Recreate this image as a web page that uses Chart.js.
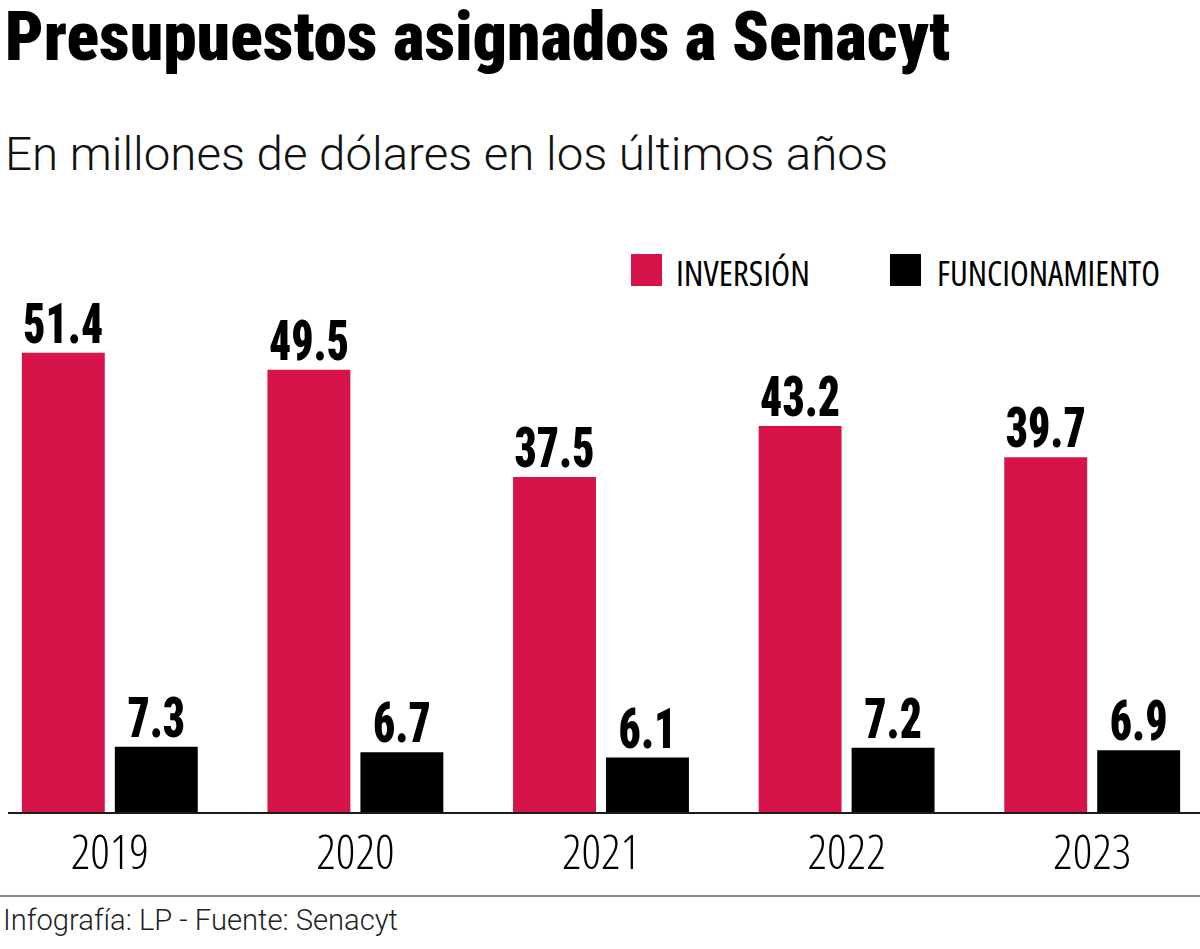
<!DOCTYPE html>
<html><head><meta charset="utf-8">
<script src="https://cdn.jsdelivr.net/npm/chart.js@4/dist/chart.umd.min.js"></script>
<style>
html,body{margin:0;padding:0;width:1200px;height:949px;overflow:hidden;background:#fff;}
.t{position:absolute;white-space:nowrap;line-height:1;transform-origin:0 0;color:#000;}
#title{left:5px;top:2px;font-family:'Roboto Condensed';font-weight:900;font-size:69px;}
#sub{left:5px;top:131px;font-family:'Roboto';font-weight:300;font-size:46px;color:#111;}
#foot{left:3px;top:905px;font-family:'Roboto';font-weight:300;font-size:30px;color:#222;}
#rule{position:absolute;left:0;top:895px;width:1200px;height:2px;background:#888;}
.box{position:absolute;width:31px;height:32px;top:254px;}
.leg{top:255px;font-family:'Open Sans';font-stretch:condensed;font-weight:400;font-size:35px;}
#wrap{position:absolute;left:-13px;top:200px;width:1228px;height:700px;}
</style></head><body>
<div id="title" class="t" data-w="945">Presupuestos asignados a Senacyt</div>
<div id="sub" class="t" data-w="883">En millones de dólares en los últimos años</div>
<div class="box" style="left:631px;background:#D7144A"></div>
<div class="t leg" style="left:676px" data-w="134">INVERSIÓN</div>
<div class="box" style="left:890px;background:#000"></div>
<div class="t leg" style="left:937px" data-w="223">FUNCIONAMIENTO</div>
<div id="wrap"><canvas id="c"></canvas></div>
<div id="rule"></div>
<div id="foot" class="t" data-w="395">Infografía: LP - Fuente: Senacyt</div>
<script>
const years = ['2019', '2020', '2021', '2022', '2023'];
const inversion = [51.4, 49.5, 37.5, 43.2, 39.7];
const funcionamiento = [7.3, 6.7, 6.1, 7.2, 6.9];
const seriesNames = ['INVERSIÓN', 'FUNCIONAMIENTO'];

document.querySelectorAll('[data-w]').forEach(el => {
  el.style.display = 'inline-block';
  const w = el.getBoundingClientRect().width;
  el.style.transform = 'scaleX(' + (parseFloat(el.dataset.w) / w) + ')';
});

const baseline = {
  id: 'baseline',
  afterDatasetsDraw(chart) {
    const ctx = chart.ctx, a = chart.chartArea;
    ctx.save();
    ctx.strokeStyle = '#1a1a1a';
    ctx.lineWidth = 2;
    ctx.beginPath();
    ctx.moveTo(21, a.bottom + 1);
    ctx.lineTo(1213, a.bottom + 1);
    ctx.stroke();
    ctx.restore();
  }
};

const valueLabels = {
  id: 'valueLabels',
  afterDatasetsDraw(chart) {
    const ctx = chart.ctx;
    ctx.save();
    ctx.font = "900 56px 'Roboto Condensed'";
    ctx.fillStyle = '#000';
    ctx.textAlign = 'center';
    ctx.textBaseline = 'alphabetic';
    const k = 80 / ctx.measureText('51.4').width;
    chart.data.datasets.forEach((ds, i) => {
      chart.getDatasetMeta(i).data.forEach((el, j) => {
        const txt = ds.data[j].toFixed(1);
        ctx.save();
        ctx.translate(el.x, el.y - 10);
        ctx.scale(k, 1);
        ctx.fillText(txt, 0, 0);
        ctx.restore();
      });
    });
    ctx.restore();
  }
};

new Chart(document.getElementById('c'), {
  type: 'bar',
  data: {
    labels: years,
    datasets: [
      { label: seriesNames[0], data: inversion, backgroundColor: '#D7144A', categoryPercentage: 0.757, barPercentage: 0.892 },
      { label: seriesNames[1], data: funcionamiento, backgroundColor: '#000000', categoryPercentage: 0.757, barPercentage: 0.892 }
    ]
  },
  options: {
    responsive: true,
    maintainAspectRatio: false,
    animation: false,
    layout: { padding: { top: 76, left: 0, right: 0, bottom: 0 } },
    plugins: { legend: { display: false }, tooltip: { enabled: false }, title: { display: false } },
    scales: {
      y: { display: false, min: 0, max: 60 },
      x: {
        grid: { display: false, drawTicks: false },
        border: { display: false },
        ticks: { color: '#000', padding: 15, font: { family: "'Open Sans'", weight: 'condensed 300', size: 48 } },
        afterFit(scale) { scale.height = 88; }
      }
    }
  },
  plugins: [baseline, valueLabels]
});
</script>
</body></html>
